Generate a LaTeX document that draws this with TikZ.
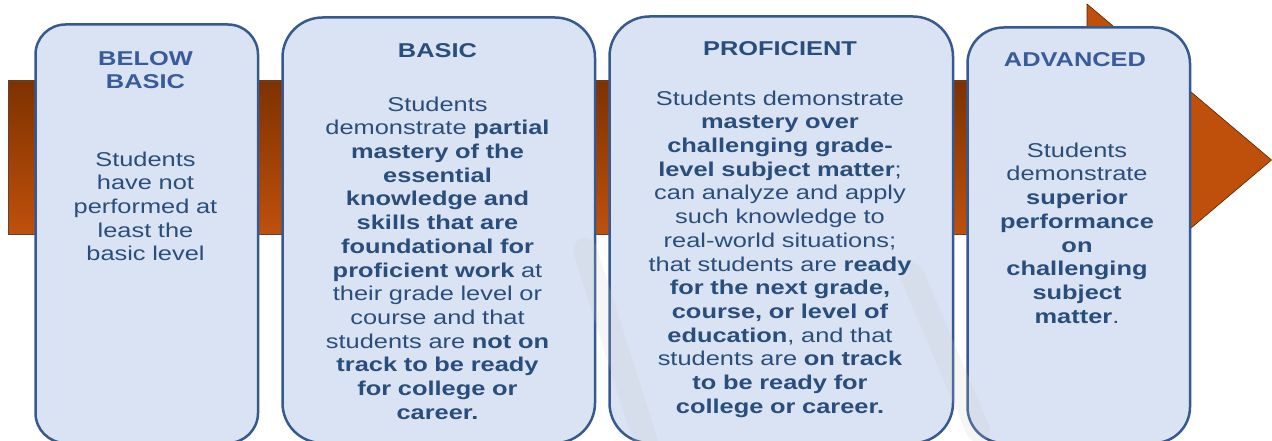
\documentclass[tikz,border=0pt]{standalone}
\usepackage{fontspec}
\setmainfont[FakeStretch=1.27]{Liberation Sans}
\definecolor{boxfill}{HTML}{DAE3F3}
\definecolor{boxline}{HTML}{36598F}
\definecolor{bodytext}{HTML}{2A4E7C}
\definecolor{headlight}{HTML}{385B9C}
\definecolor{arrowdark}{HTML}{7E3200}
\definecolor{arroworange}{HTML}{BF500C}
\definecolor{wmark}{HTML}{C8C8C8}
\newcommand{\fl}{\rule{0pt}{15pt}}
\begin{document}
\begin{tikzpicture}[x=1pt,y=-1pt,
  lvlbox/.style={draw=boxline, fill=boxfill, line width=2.5pt, inner sep=0pt,
    anchor=north west},
  headtxt/.style={anchor=north, inner sep=0pt, align=center, text=bodytext,
    font=\fontsize{20}{23.7}\selectfont\bfseries},
  bodytxt/.style={anchor=north, inner sep=0pt, align=center, text=bodytext,
    font=\fontsize{20}{23.7}\selectfont},
  wm/.style={wmark, opacity=0.18, line width=24pt, line cap=round}]
\useasboundingbox (0,0) rectangle (1272,441);
\clip (0,0) rectangle (1272,441);
% arrow
\fill[arroworange, draw=arrowdark!70!black, line width=0.6pt] (1087,4) -- (1271.5,160) -- (1087,316) -- cycle;
\shade[top color=arrowdark, bottom color=arroworange, draw=arrowdark!60!boxline, line width=0.6pt] (8,81) rectangle (1100,234);
% boxes
\node[lvlbox, rounded corners=30pt, minimum width=222.5pt, minimum height=418.5pt] (b1) at (34.25,23.25) {};
\node[lvlbox, rounded corners=40pt, minimum width=312.5pt, minimum height=425.5pt] (b2) at (281.25,16.25) {};
\node[lvlbox, rounded corners=40pt, minimum width=343.5pt, minimum height=426.5pt] (b3) at (608.25,15.25) {};
\node[lvlbox, rounded corners=36pt, minimum width=222.5pt, minimum height=415.5pt] (b4) at (966.25,26.25) {};
% faint watermark
\draw[wm] (585,250) -- (650,455);
\draw[wm] (912,275) -- (978,430);
% headers
\node[headtxt, text=headlight, text width=220pt] (h1) at (145.5,50) {\fl BELOW\\BASIC};
\node[headtxt, text width=300pt] (h2) at (437.5,42) {\fl BASIC};
\node[headtxt, text width=330pt] (h3) at (780,40) {\fl PROFICIENT};
\node[headtxt, text=headlight, text width=220pt] (h4) at (1075,51) {\fl ADVANCED};
% bodies
\node[bodytxt, text width=220pt] (t1) at (145.5,151) {\fl Students\\have not\\performed at\\least the\\basic level};
\node[bodytxt, text width=305pt] (t2) at (437.5,96) {\fl Students\\demonstrate \textbf{partial}\\\textbf{mastery of the}\\\textbf{essential}\\\textbf{knowledge and}\\\textbf{skills that are}\\\textbf{foundational for}\\\textbf{proficient work} at\\their grade level or\\course and that\\students are \textbf{not on}\\\textbf{track to be ready}\\\textbf{for college or}\\\textbf{career.}};
\node[bodytxt, text width=335pt] (t3) at (780,90) {\fl Students demonstrate\\\textbf{mastery over}\\\textbf{challenging grade-}\\\textbf{level subject matter};\\can analyze and apply\\such knowledge to\\real-world situations;\\that students are \textbf{ready}\\\textbf{for the next grade,}\\\textbf{course, or level of}\\\textbf{education}, and that\\students are \textbf{on track}\\\textbf{to be ready for}\\\textbf{college or career.}};
\node[bodytxt, text width=220pt] (t4) at (1077,142) {\fl Students\\demonstrate\\\textbf{superior}\\\textbf{performance}\\\textbf{on}\\\textbf{challenging}\\\textbf{subject}\\\textbf{matter}.};
\end{tikzpicture}
\end{document}
